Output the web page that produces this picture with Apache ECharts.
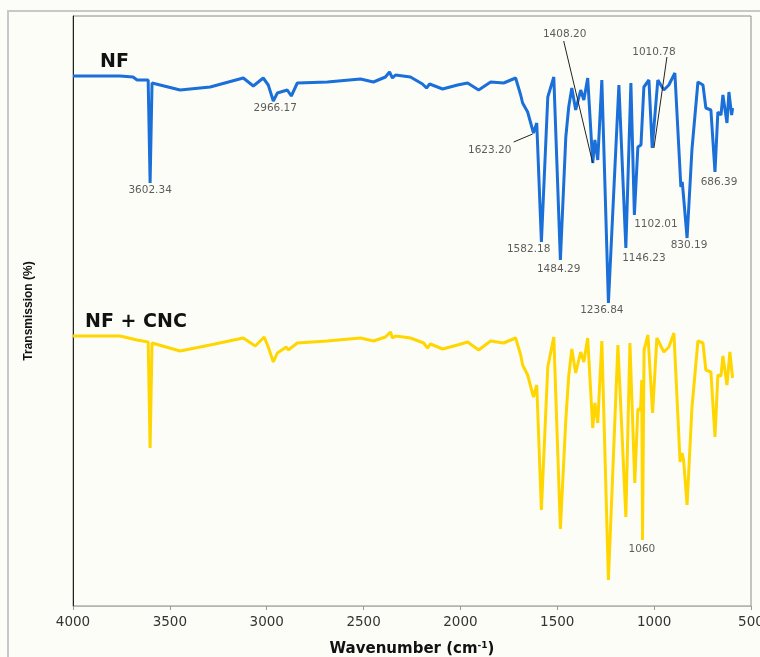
<!DOCTYPE html>
<html>
<head>
<meta charset="utf-8">
<script src="https://cdn.jsdelivr.net/npm/echarts@6/dist/echarts.min.js"></script>
<style>
html,body{margin:0;padding:0;background:#fdfdf8;overflow:hidden;}
#c{width:760px;height:657px;}
</style>
</head>
<body>
<div id="c"></div>
<script>
// Wavenumber (cm-1) and transmission (arbitrary offset units)
const nfWn = [4000,3757,3690,3669,3612,3602,3592,3447,3292,3121,3069,3018,2992,2966,2945,2894,2873,2842,2687,2516,2449,2387,2366,2351,2335,2258,2196,2175,2159,2092,2015,1963,1906,1844,1777,1715,1689,1679,1653,1623,1606,1582,1549,1518,1484,1456,1441,1425,1405,1379,1363,1343,1317,1306,1291,1270,1236,1182,1146,1120,1102,1084,1068,1053,1027,1010,981,950,924,893,862,855,848,830,805,774,748,733,707,686,671,655,645,624,614,600,595];
const nfT  = [530,530,529,526,526,423,523,516,519,528,520,528,521,505,513,516,510,523,524,527,524,529,534,528,531,529,522,518,522,517,521,523,516,524,523,528,511,503,494,473,483,364,509,529,346,469,499,518,496,516,506,528,443,466,446,526,303,521,358,523,391,459,461,519,526,458,526,516,521,533,419,424,409,368,456,524,521,498,496,434,494,491,511,483,514,491,498];

const cncWn = [4000,3757,3669,3612,3602,3592,3447,3292,3121,3059,3013,2992,2966,2945,2899,2889,2842,2687,2516,2449,2387,2361,2351,2335,2258,2190,2170,2154,2092,2015,1963,1906,1844,1777,1715,1689,1679,1653,1623,1606,1582,1549,1518,1484,1456,1441,1425,1405,1379,1363,1343,1317,1306,1291,1270,1236,1187,1146,1125,1100,1084,1070,1064,1060,1052,1032,1008,986,950,924,898,866,856,848,830,805,774,748,733,707,686,671,655,645,624,609,595];
const cncT  = [270,270,266,264,158,263,255,261,268,260,269,259,244,253,259,256,263,265,268,265,269,274,268,270,268,263,258,262,257,261,264,256,265,263,268,251,241,231,209,221,96,239,269,77,186,230,257,233,254,244,268,178,203,183,265,26,261,89,263,123,197,196,226,66,256,271,193,268,254,259,273,144,153,146,101,198,265,263,236,234,169,231,230,250,221,254,228];

// Peak annotation texts and where their labels sit (wavenumber, value)
const peakText = ['3602.34','2966.17','1623.20','1582.18','1484.29','1236.84','1146.23','1102.01','830.19','686.39','1010.78','1408.20','1060'];
const peakLabelWn = [3602,2956,1849,1648,1493,1270,1053,991,820,665,1001,1462,1063];
const peakLabelT  = [416,498,456,357,337,296,348,382,361,424,554,572,57];

// Leader lines: [from wn, from value, to wn, to value]
const leaderFromWn = [1725,1467,934];
const leaderFromT  = [464,565,549];
const leaderToWn   = [1627,1317,1001];
const leaderToT    = [472,443,458];

const xTicks = [4000,3500,3000,2500,2000,1500,1000,500];

const seriesNames = ['NF','NF + CNC'];

const chart = echarts.init(document.getElementById('c'), null, {renderer:'canvas'});

const nfData = nfWn.map((w,i)=>[w,nfT[i]]);
const cncData = cncWn.map((w,i)=>[w,cncT[i]]);
const annData = peakText.map((t,i)=>[peakLabelWn[i],peakLabelT[i],t]);
const leaderData = leaderFromWn.map((w,i)=>({coords:[[w,leaderFromT[i]],[leaderToWn[i],leaderToT[i]]]}));

chart.setOption({
  backgroundColor:'#fdfdf8',
  animation:false,
  grid:{left:73,right:9,top:16,bottom:51,containLabel:false,outerBoundsMode:'none',
    show:true,borderColor:'#8c8c84',borderWidth:1,backgroundColor:'transparent'},
  xAxis:{
    type:'value', inverse:true, min:500, max:4000, interval:500,
    axisLine:{show:true,lineStyle:{color:'#b4b4b4',width:1}},
    axisTick:{show:true,length:4,lineStyle:{color:'#9a9a9a'}},
    splitLine:{show:false},
    axisLabel:{color:'#333',fontFamily:'DejaVu Sans',fontSize:13.5,margin:9,hideOverlap:false,
      formatter:v=> xTicks.includes(v)? String(v):''},
    name:'Wavenumber (cm{sup|-1})',
    nameLocation:'middle', nameGap:35,
    nameTextStyle:{fontFamily:'DejaVu Sans',fontWeight:'bold',fontSize:15,color:'#111',
      rich:{sup:{fontFamily:'DejaVu Sans',fontWeight:'bold',fontSize:9,color:'#111',verticalAlign:'top',padding:[0,0,7,0]}}}
  },
  yAxis:{
    type:'value', min:0, max:590,
    axisLine:{show:true,lineStyle:{color:'#222',width:1}},
    axisTick:{show:false}, axisLabel:{show:false}, splitLine:{show:false},
    name:'Transmission (%)', nameLocation:'middle', nameRotate:90, nameGap:38,
    nameTextStyle:{fontFamily:'Liberation Sans',fontWeight:'bold',fontSize:12,color:'#111'}
  },
  graphic:[
    {type:'rect',shape:{x:8,y:11,width:800,height:700},style:{fill:'none',stroke:'#c8c8c8',lineWidth:2},silent:true,z:-1},
    {type:'text',x:100,y:62,style:{text:seriesNames[0],fontFamily:'DejaVu Sans',fontWeight:'bold',fontSize:19,fill:'#111',verticalAlign:'middle'}},
    {type:'text',x:85,y:322,style:{text:seriesNames[1],fontFamily:'DejaVu Sans',fontWeight:'bold',fontSize:19,fill:'#111',verticalAlign:'middle'}}
  ],
  series:[
    {name:seriesNames[0],type:'line',data:nfData,showSymbol:false,symbol:'none',
      lineStyle:{color:'#1b6fd8',width:3},itemStyle:{color:'#1b6fd8'},z:3},
    {name:seriesNames[1],type:'line',data:cncData,showSymbol:false,symbol:'none',
      lineStyle:{color:'#ffd600',width:3},itemStyle:{color:'#ffd600'},z:3},
    {type:'lines',coordinateSystem:'cartesian2d',data:leaderData,
      lineStyle:{color:'#222',width:1,opacity:1},z:4},
    {type:'scatter',data:annData,symbolSize:1,itemStyle:{color:'rgba(0,0,0,0)'},z:5,
      label:{show:true,position:'inside',formatter:p=>p.data[2],
        fontFamily:'DejaVu Sans',fontSize:10.5,color:'#333'}}
  ]
});
</script>
</body>
</html>
